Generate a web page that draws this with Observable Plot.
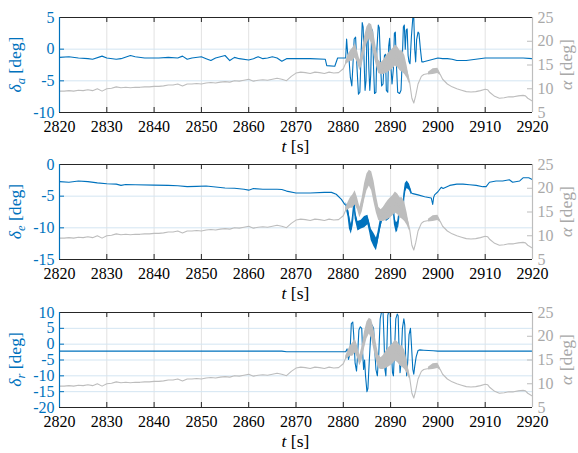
<!DOCTYPE html>
<html><head><meta charset="utf-8">
<script src="https://cdn.jsdelivr.net/npm/d3@7"></script>
<script src="https://cdn.jsdelivr.net/npm/@observablehq/plot@0.6"></script>
<style>
body{margin:0;background:#fff;}
#chart{position:relative;width:578px;height:453px;overflow:hidden;background:#fff;}
.layer{position:absolute;left:0;}
.layer svg{position:absolute;left:0;top:0;}
</style></head><body><div id="chart"></div>
<script>
// ---------------- data ----------------
const xTicks = [2820,2830,2840,2850,2860,2870,2880,2890,2900,2910,2920];
const aileronTicks = [5,0,-5,-10];
const elevatorTicks = [0,-5,-10,-15];
const rudderTicks = [10,5,0,-5,-10,-15,-20];
const alphaTicks = [5,10,15,20,25];

// [t (s), delta_a (deg)]
const aileron = [[2820,-1.3],[2822,-1.2],[2824,-1.4],[2826,-1.5],[2827,-1.6],[2829,-1.1],[2830,-1.4],[2832,-1.6],[2833,-1.5],[2835,-1.0],[2836,-1.2],[2838,-1.4],[2841,-1.4],[2843,-1.3],[2845,-1.4],[2846,-1.1],[2847,-1.6],[2848,-1.4],[2850,-1.2],[2851,-1.5],[2852,-1.8],[2853,-1.4],[2854,-1.2],[2855,-1.0],[2856,-1.8],[2857,-1.3],[2858,-1.5],[2860,-1.7],[2861,-1.5],[2862,-1.2],[2863,-1.5],[2864,-1.4],[2865,-1.2],[2866,-1.4],[2867,-1.9],[2868,-1.5],[2870,-1.5],[2873,-1.5],[2876.2,-1.6],[2876.5,-2.6],[2878.2,-2.7],[2878.8,-1.4],[2880.5,-1.4],[2880.7,1.6],[2880.9,-0.5],[2881.2,-1.5],[2881.5,-4.5],[2881.8,-5.8],[2882.0,-3],[2882.3,1.6],[2882.6,1.9],[2882.9,-3],[2883.2,-7.1],[2883.5,-6.8],[2883.8,0],[2884.0,4.2],[2884.2,3.5],[2884.4,-2],[2884.6,-6.5],[2884.8,-5],[2885.0,2.3],[2885.2,2.5],[2885.4,-3],[2885.6,-6.5],[2885.8,-4],[2886.0,3.2],[2886.2,2.8],[2886.4,-3],[2886.6,-7.0],[2886.9,-6.8],[2887.1,0],[2887.4,3.8],[2887.6,3.4],[2887.9,-3],[2888.1,-5.8],[2888.4,-5.5],[2888.7,-1],[2888.9,-0.8],[2889.1,-6.5],[2889.4,-6.8],[2889.6,0.5],[2889.8,1.7],[2890.0,-2],[2890.3,-5.5],[2890.6,-3],[2890.8,2.5],[2891.0,2.7],[2891.2,-2],[2891.5,-6.8],[2891.9,-7.0],[2892.2,-6.5],[2892.5,-1],[2892.7,3.5],[2892.9,3.8],[2893.1,0],[2893.3,3.0],[2893.5,3.2],[2893.7,-1],[2893.9,-2.0],[2894.1,-2.3],[2894.4,2],[2894.7,5],[2894.9,5],[2895.1,0],[2895.3,-2],[2895.5,1.5],[2895.8,2.7],[2896.0,2.5],[2896.3,0],[2896.6,-2.0],[2897.0,-2.0],[2898,-1.8],[2899,-1.6],[2900,-1.4],[2901,-1.5],[2902,-1.5],[2903,-1.6],[2904,-1.8],[2906,-1.8],[2908,-1.6],[2910,-1.4],[2912,-1.4],[2915,-1.4],[2918,-1.4],[2920,-1.5]];

// [t (s), delta_e (deg)]
const elevator = [[2820,-2.7],[2822,-2.8],[2824,-2.6],[2826,-2.7],[2828,-2.9],[2830,-3.05],[2832,-3.1],[2833,-3.3],[2834,-3.15],[2836,-3.2],[2840,-3.25],[2843,-3.3],[2845,-3.35],[2847,-3.5],[2849,-3.45],[2851,-3.4],[2853,-3.55],[2855,-3.7],[2857,-3.75],[2859,-3.9],[2860,-4.05],[2861,-3.8],[2863,-3.9],[2866,-3.9],[2867,-3.95],[2868,-4.2],[2870,-4.5],[2873,-4.5],[2876,-4.4],[2877.5,-4.4],[2878.5,-4.7],[2879.6,-5.5],[2880.3,-6.3],[2880.7,-6.5],[2881.0,-7.5],[2881.3,-9.0],[2881.7,-10.2],[2882.0,-8.7],[2882.3,-5.8],[2882.5,-7.9],[2883.1,-9.8],[2883.8,-9.5],[2884.5,-9.0],[2885.2,-8.7],[2885.6,-10],[2885.9,-11.1],[2886.5,-11.9],[2887.0,-12.6],[2887.3,-11.6],[2887.7,-10],[2888.0,-9],[2888.4,-7.7],[2888.7,-7.4],[2889.1,-8.2],[2889.8,-7.9],[2890.3,-6.6],[2890.6,-6.8],[2890.8,-8.7],[2891.2,-10],[2891.5,-9.8],[2891.9,-7.4],[2892.3,-7.2],[2892.6,-7.6],[2892.8,-5.3],[2893.1,-3.7],[2893.5,-3.2],[2894.0,-3.6],[2894.4,-4.5],[2894.7,-4.6],[2895.8,-4.8],[2897.2,-5.1],[2898.6,-5.3],[2898.9,-6.3],[2899.1,-5.2],[2899.3,-4.8],[2900.0,-4.3],[2900.7,-3.6],[2901.1,-3.8],[2902.5,-3.3],[2904,-3.1],[2905.3,-3.1],[2906.7,-3.2],[2908.1,-3.3],[2909.5,-3.5],[2910.2,-3.5],[2910.9,-2.8],[2912.3,-2.6],[2913.7,-2.6],[2915.1,-2.4],[2915.8,-2.8],[2917.3,-2.6],[2918,-2.1],[2919.2,-2.1],[2920,-2.4]];

// high-frequency envelope of delta_e: [t, low, high]
const elevatorBand = [[2880.6,-7.0,-6.0],[2881.0,-8.3,-6.8],[2881.3,-10.2,-8.0],[2881.7,-11.0,-9.5],[2882.0,-9.8,-7.8],[2882.3,-6.5,-5.0],[2882.5,-8.6,-7.2],[2883.1,-10.5,-9.0],[2883.8,-10.2,-8.8],[2884.5,-10.0,-8.2],[2885.2,-9.5,-8.0],[2885.6,-10.8,-9.2],[2885.9,-12.0,-10.2],[2886.5,-13.0,-10.9],[2887.0,-13.6,-11.6],[2887.3,-12.6,-10.8],[2887.7,-10.8,-9.2],[2888.0,-9.8,-8.2],[2888.4,-8.5,-7.0],[2888.7,-8.2,-6.7],[2889.1,-9.0,-7.5],[2889.8,-8.6,-7.2],[2890.3,-7.3,-6.0],[2890.6,-7.5,-6.2],[2890.8,-9.5,-8.0],[2891.2,-10.8,-9.2],[2891.5,-10.5,-9.0],[2891.9,-8.2,-6.8],[2892.3,-8.0,-6.5],[2892.6,-8.3,-6.8],[2892.8,-6.0,-4.6],[2893.1,-4.4,-3.0],[2893.5,-3.8,-2.6],[2894.0,-4.1,-3.1],[2894.4,-4.8,-4.2]];

// [t (s), delta_r (deg)]
const rudder = [[2820,-2.2],[2867,-2.2],[2868,-2.4],[2880.5,-2.4],[2880.8,-1.5],[2881.1,-4.8],[2881.4,-3],[2881.7,6.5],[2882.0,7.0],[2882.2,3],[2882.5,-6],[2882.8,-8.5],[2883.0,-4],[2883.3,4.5],[2883.6,5.5],[2883.9,5],[2884.1,-3],[2884.3,-8],[2884.5,-5],[2884.7,-10],[2885.0,-15],[2885.2,-14],[2885.5,-5],[2885.8,3],[2886.1,6],[2886.4,5],[2886.7,-3],[2886.9,-8],[2887.2,-10],[2887.5,-3],[2887.8,8],[2888.1,10.3],[2888.4,10.3],[2888.6,2],[2888.8,-8],[2889.0,-10],[2889.2,-2],[2889.4,9],[2889.6,10.3],[2889.9,10],[2890.1,0],[2890.4,-9],[2890.6,-10],[2890.8,-3],[2891.1,8],[2891.4,9.5],[2891.6,9],[2891.8,-2],[2892.0,-9],[2892.2,-6],[2892.5,5],[2892.8,8],[2893.0,6],[2893.2,-5],[2893.4,-10],[2893.6,-6],[2893.9,3],[2894.2,5],[2894.4,0],[2894.7,-8],[2894.9,-9.5],[2895.1,-7],[2895.4,-4],[2895.8,-2],[2896.2,-1.8],[2897,-1.9],[2898,-2.0],[2899,-2.1],[2900,-2.2],[2920,-2.2]];

// [t (s), alpha (deg)]  (same signal in all three panels)
const alpha = [[2820,9.5],[2821,9.5],[2822,9.6],[2823,9.5],[2824,9.7],[2825,9.6],[2826,9.8],[2827,9.6],[2828,10.0],[2829,9.5],[2830,10.0],[2831,10.1],[2832,10.4],[2833,10.2],[2834,10.3],[2835,10.2],[2836,10.3],[2837,10.3],[2838,10.4],[2839,10.4],[2840,10.5],[2841,10.5],[2842,10.6],[2843,10.8],[2844,10.8],[2845,11.0],[2846,10.6],[2847,11.0],[2848,11.0],[2849,11.1],[2850,11.0],[2851,11.2],[2852,11.3],[2853,11.2],[2854,11.4],[2855,11.5],[2856,11.4],[2857,11.7],[2858,11.6],[2859,11.8],[2860,12.0],[2861,11.6],[2862,11.8],[2863,11.9],[2864,11.8],[2865,12.0],[2866,12.2],[2867,12.0],[2868,11.7],[2869,12.6],[2870,13.3],[2871,13.5],[2872,13.4],[2873,13.2],[2874,13.5],[2875,13.4],[2876,13.2],[2877,13.5],[2878,13.3],[2879,13.4],[2880,14.2],[2880.5,15.4],[2881,16.2],[2881.5,16.8],[2882,17.2],[2882.5,18.0],[2883,16.8],[2883.5,14.9],[2884,16.5],[2884.5,19.3],[2885,21.2],[2885.5,22.2],[2886,21.5],[2886.5,19.2],[2887,16.6],[2887.5,14.6],[2888,14.2],[2888.5,14.5],[2889,15.0],[2889.5,15.5],[2890,15.9],[2890.5,16.3],[2891,17.0],[2891.5,16.6],[2892,15.9],[2892.5,15.7],[2893,15.0],[2893.5,13.5],[2894,11.5],[2894.5,8.0],[2894.9,7.0],[2895.3,8.5],[2895.8,11.0],[2896.5,12.6],[2897,13.0],[2898,13.2],[2899,13.6],[2900,13.8],[2900.5,13.0],[2901,12.0],[2902,11.0],[2903,10.4],[2904,10.0],[2905,9.7],[2906,9.4],[2907,9.3],[2908,9.4],[2909,9.6],[2910,9.9],[2910.5,9.8],[2911,9.2],[2912,8.4],[2913,8.0],[2914,8.1],[2915,8.3],[2916,8.3],[2917,8.5],[2918,8.6],[2918.5,8.5],[2919,8.0],[2920,7.4]];

// high-frequency envelope of alpha: [t, low, high]
const alphaBand = [[2880.5,15.0,15.8],[2881,15.4,17.0],[2881.5,15.8,18.0],[2882,15.8,18.6],[2882.5,16.5,19.5],[2883,15.5,18.0],[2883.5,13.8,16.0],[2884,15.0,18.0],[2884.5,17.5,21.0],[2885,19.5,23.0],[2885.5,20.5,23.8],[2886,19.5,23.5],[2886.5,17.0,21.5],[2887,14.8,18.5],[2887.5,13.2,16.0],[2888,13.0,15.5],[2888.5,13.0,16.0],[2889,13.2,16.8],[2889.5,13.5,17.5],[2890,13.8,18.0],[2890.5,14.2,18.5],[2891,14.8,19.2],[2891.5,14.5,18.8],[2892,13.8,18.0],[2892.5,13.5,18.0],[2893,13.0,17.0],[2893.5,12.2,14.8],[2894,11.0,12.0]];
const alphaBand2 = [[2898,12.9,13.5],[2899,13.0,14.2],[2900,13.2,14.3],[2900.5,12.8,13.3]];

// ---------------- drawing ----------------
const BLUE = "#0072BD", GRAY = "#BDBDBD", GRAYTXT = "#a9a9a9", DARK = "#262626";
const FONT = "'Liberation Serif','Times New Roman',serif";
const W = 578, H = 160, ML = 59, MR = 46, MT = 17, PH = 95, MB = H - MT - PH;
const plotW = W - ML - MR;

const toObj = a => a.map(d => ({t: d[0], v: d[1]}));
const toBand = a => a.map(d => ({t: d[0], lo: d[1], hi: d[2]}));

const panels = [
  {top: 0.3, sub: "a", domain: [-10, 5], ticks: aileronTicks, data: aileron, band: null},
  {top: 147, sub: "e", domain: [-15, 0], ticks: elevatorTicks, data: elevator, band: elevatorBand},
  {top: 294.7, sub: "r", domain: [-20, 10], ticks: rudderTicks, data: rudder, band: null}
];

const chart = document.getElementById("chart");

for (const cfg of panels) {
  const div = document.createElement("div");
  div.className = "layer";
  div.style.top = cfg.top + "px";
  div.style.width = W + "px";
  div.style.height = H + "px";
  chart.appendChild(div);

  const common = {
    width: W, height: H, marginLeft: ML, marginRight: MR, marginTop: MT, marginBottom: MB,
    style: {background: "transparent", fontFamily: FONT, fontSize: "16px", overflow: "visible"},
    x: {domain: [2820, 2920], axis: null}
  };

  const bottom = Plot.plot({
    ...common,
    y: {domain: cfg.domain, axis: null},
    marks: [
      Plot.ruleX(xTicks, {x: d => d, stroke: "#e2e2e2", strokeWidth: 1}),
      Plot.ruleY(cfg.ticks, {y: d => d, stroke: "#d3e5f2", strokeWidth: 1}),
      ...(cfg.band ? [Plot.areaY(toBand(cfg.band), {x: "t", y1: "lo", y2: "hi", fill: BLUE, clip: true})] : []),
      Plot.line(toObj(cfg.data), {x: "t", y: "v", stroke: BLUE, strokeWidth: 1.1, clip: true}),
      Plot.axisX({ticks: xTicks, label: null, tickSize: 0, tickPadding: 8, tickFormat: d => String(d), fill: "#000", fontSize: 16}),
      Plot.axisY({anchor: "left", label: null, ticks: cfg.ticks, tickSize: 0, tickPadding: 5, tickFormat: d => String(d), fill: BLUE, fontSize: 16}),
      Plot.tickY(cfg.ticks, {y: d => d, stroke: BLUE, insetRight: plotW - 5})
    ]
  });

  const top = Plot.plot({
    ...common,
    y: {domain: [5, 25], axis: null},
    marks: [
      Plot.areaY(toBand(alphaBand), {x: "t", y1: "lo", y2: "hi", fill: GRAY, clip: true}),
      Plot.areaY(toBand(alphaBand2), {x: "t", y1: "lo", y2: "hi", fill: GRAY, clip: true}),
      Plot.line(toObj(alpha), {x: "t", y: "v", stroke: GRAY, strokeWidth: 1.1, clip: true}),
      Plot.axisY({anchor: "right", label: null, ticks: alphaTicks, tickSize: 0, tickPadding: 5, tickFormat: d => String(d), fill: GRAYTXT, fontSize: 16}),
      Plot.tickY(alphaTicks, {y: d => d, stroke: GRAY, insetLeft: plotW - 5}),
      Plot.tickX(xTicks, {x: d => d, stroke: DARK, insetBottom: PH - 5}),
      Plot.tickX(xTicks, {x: d => d, stroke: DARK, insetTop: PH - 5}),
      Plot.ruleY([5, 25], {y: d => d, stroke: DARK, strokeWidth: 1.2}),
      Plot.ruleX([2820], {x: d => d, stroke: BLUE, strokeWidth: 1.2}),
      Plot.ruleX([2920], {x: d => d, stroke: GRAY, strokeWidth: 1.2})
    ]
  });

  div.appendChild(bottom);
  div.appendChild(top);

  const s = d3.select(top);
  // left y label
  const yl = s.append("text")
    .attr("transform", `translate(21,${MT + PH / 2}) rotate(-90)`)
    .attr("text-anchor", "middle").attr("fill", BLUE)
    .attr("font-size", 17.6).attr("font-family", FONT);
  yl.append("tspan").attr("font-style", "italic").text("δ");
  yl.append("tspan").attr("font-style", "italic").attr("font-size", 12.5).attr("dy", 4).text(cfg.sub);
  yl.append("tspan").attr("dy", -4).text("\u00a0[deg]");
  // right y label
  const yr = s.append("text")
    .attr("transform", `translate(572,${MT + PH / 2}) rotate(-90)`)
    .attr("text-anchor", "middle").attr("fill", GRAYTXT)
    .attr("font-size", 17.6).attr("font-family", FONT);
  yr.append("tspan").attr("font-style", "italic").text("α");
  yr.append("tspan").text("\u00a0[deg]");
  // x label
  const xl = s.append("text")
    .attr("transform", `translate(${ML + plotW / 2},${MT + PH + 39.5})`)
    .attr("text-anchor", "middle").attr("fill", "#000")
    .attr("font-size", 17.6).attr("font-family", FONT);
  xl.append("tspan").attr("font-style", "italic").text("t");
  xl.append("tspan").text("\u00a0[s]");
}
</script></body></html>
